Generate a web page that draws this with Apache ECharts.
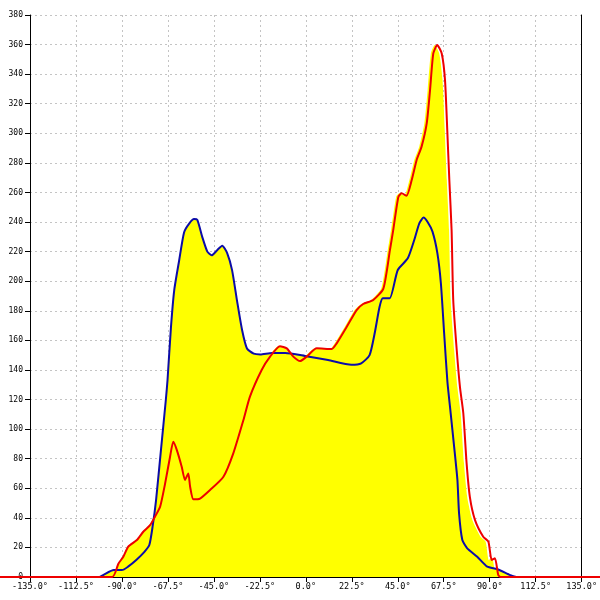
<!DOCTYPE html>
<html>
<head>
<meta charset="utf-8">
<script src="https://cdn.jsdelivr.net/npm/echarts@6/dist/echarts.min.js"></script>
<style>html,body{margin:0;padding:0;background:#fff}#c{width:600px;height:600px}</style>
</head>
<body>
<div id="c"></div>
<script>
var xTicks = [-135, -112.5, -90, -67.5, -45, -22.5, 0, 22.5, 45, 67.5, 90, 112.5, 135];
var yTicks = [0, 20, 40, 60, 80, 100, 120, 140, 160, 180, 200, 220, 240, 260, 280, 300, 320, 340, 360, 380];

var blueSeries = [
[-101,0],[-99,1.5],[-94,4.7],[-90,4.7],[-87,7],[-83,11.5],[-79,17],[-76.6,21.6],[-75,34],[-73.3,52],
[-70.9,86],[-68.5,120],[-67.7,133],[-66,169],[-64.4,194],[-62,214],[-59.6,233],[-57.1,239],[-54.7,242],
[-53.1,241.5],[-50.7,230],[-48.2,220],[-46.1,217.5],[-43.4,221],[-40.9,224],[-38.5,219],[-36.1,207.5],
[-33.7,187],[-31.2,167],[-28.8,154.5],[-25.5,151],[-22.3,150.5],[-16.6,151.5],[-10.1,151.5],[-0.4,149.5],
[10.9,146.7],[22.3,143.5],[27.1,144.5],[31.2,150],[33.7,164.8],[36.1,182.7],[37.7,188.4],[41,188.4],
[45,207.6],[49.9,215.5],[53.1,228],[55.5,239],[57.6,243],[59.6,240],[62,233.5],[64.4,218.8],[66.1,198.6],
[67.7,164.8],[69.3,132],[70.9,110.7],[72.6,88],[74.2,65.6],[75,43],[76.6,25],[79,19.4],[83.9,13.7],
[88.8,7],[93.6,5.4],[100.1,1.3],[103,0]
];

var redSeries = [
[-150,0],[-95,0],[-92,9],[-89.6,13.7],[-87.2,20.5],[-83,25],[-79.9,30.6],[-76.6,35],[-74.2,40.8],
[-71.7,47.5],[-69.3,63],[-66.9,81],[-65.3,91.5],[-63.6,86],[-61.2,74.6],[-59.6,65.6],[-58,70],[-57.1,61],
[-55.5,52.5],[-52.3,53],[-47.4,58.8],[-40.9,67.8],[-36.1,83.6],[-31.2,106],[-28,122],[-22.3,140],
[-18.2,149],[-13.4,156],[-10.1,154.6],[-6.9,149],[-3.6,146],[-0.4,149],[4.5,154.6],[11.8,154.2],
[14.2,158],[19.1,169.2],[23.9,180.5],[27.1,184.6],[32,187.3],[36.9,195],[40.1,221],[41.7,234.6],
[44.2,257],[45.8,259.4],[48.2,257.8],[50.7,268.4],[53.1,282],[55.5,291],[58,306.7],[59.6,329],
[61.2,354],[63.1,359.7],[65.3,354],[66.9,336],[68,302],[69,268.4],[70.1,234.6],[70.9,187.3],
[72.6,153.5],[74.2,128],[75.8,110.7],[77.4,77],[79,54],[81.5,38.5],[85.5,27.2],[88,23.9],[89.6,11.5],
[91.2,12.6],[92.8,1.3],[94,0],[150,0]
];

var W = 600, GL = 30, GR = 15;
var xMin = xTicks[0], xMax = xTicks[xTicks.length - 1];
var degPerPx = (xMax - xMin) / (W - GL - GR);
var fullMin = xMin - GL * degPerPx, fullMax = xMax + GR * degPerPx;

var chart = echarts.init(document.getElementById('c'), null, {renderer: 'canvas'});
var labelFont = {fontFamily: 'DejaVu Sans Mono', fontSize: 8.5, color: '#000'};
var grid = {show: true, lineStyle: {color: '#c4c4c4', type: [2, 3], width: 1}};
chart.setOption({
  animation: false,
  backgroundColor: '#fff',
  grid: [{left: GL, right: GR, top: 15, bottom: 23}, {left: 0, right: 0, top: 15, bottom: 23}],
  xAxis: [{
    type: 'value', gridIndex: 0, min: xMin, max: xMax, interval: 22.5,
    axisLine: {show: true, onZero: false, lineStyle: {color: '#000', width: 1}},
    axisTick: {show: true, length: 5, lineStyle: {color: '#000'}},
    axisLabel: Object.assign({margin: 5, formatter: function (v) { return v.toFixed(1) + '°'; }}, labelFont),
    splitLine: grid
  }, {
    type: 'value', gridIndex: 1, min: fullMin, max: fullMax, show: false
  }],
  yAxis: [{
    type: 'value', gridIndex: 0, min: yTicks[0], max: yTicks[yTicks.length - 1], interval: 20,
    axisLine: {show: true, onZero: false, lineStyle: {color: '#000', width: 1}},
    axisTick: {show: true, length: 5, lineStyle: {color: '#000'}},
    axisLabel: Object.assign({margin: 7}, labelFont, {fontSize: 8}),
    splitLine: grid
  }, {
    type: 'value', gridIndex: 0, min: 0, max: 380, position: 'right',
    axisLine: {show: true, onZero: false, lineStyle: {color: '#000', width: 1}},
    axisTick: {show: false}, axisLabel: {show: false}, splitLine: {show: false}
  }, {
    type: 'value', gridIndex: 1, min: 0, max: 380, show: false
  }],
  series: [
    {type: 'line', data: blueSeries, showSymbol: false, symbol: 'none', smooth: 0.2,
      lineStyle: {width: 0}, areaStyle: {color: '#ffff00', opacity: 1}, z: 1},
    {type: 'line', data: redSeries, showSymbol: false, symbol: 'none', smooth: 0.2,
      lineStyle: {width: 0}, areaStyle: {color: '#ffff00', opacity: 1}, z: 1},
    {type: 'line', data: blueSeries, showSymbol: false, symbol: 'none', smooth: 0.2,
      lineStyle: {width: 2, color: '#0c0ca8'}, z: 3},
    {type: 'line', data: redSeries, xAxisIndex: 1, yAxisIndex: 2, showSymbol: false, symbol: 'none',
      smooth: 0.2, lineStyle: {width: 2, color: '#ee0000'}, z: 4}
  ]
});
</script>
</body>
</html>
